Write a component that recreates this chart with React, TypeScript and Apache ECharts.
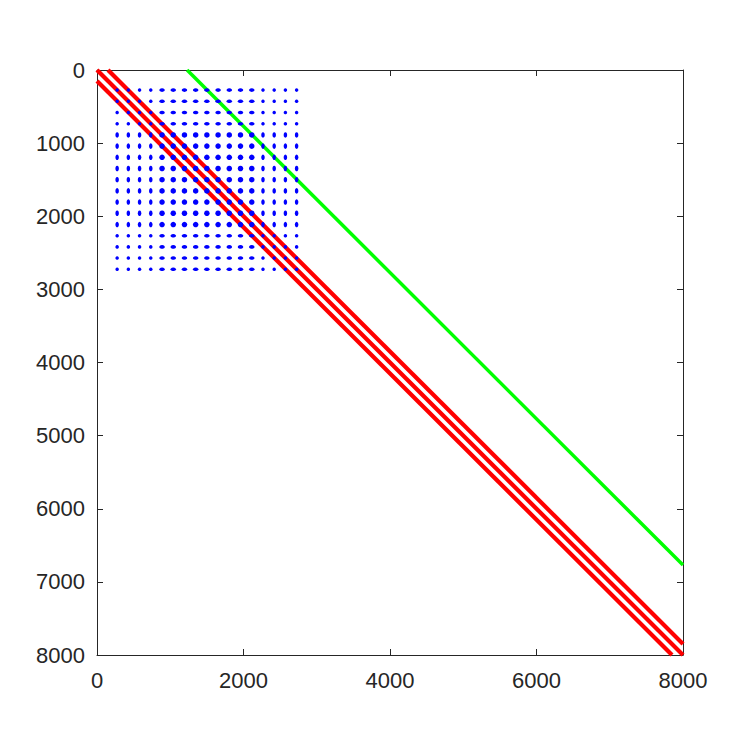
import React, { useEffect, useRef } from "react";
import * as echarts from "echarts";

// Axis ticks
const xTicks = [0, 2000, 4000, 6000, 8000];
const yTicks = [0, 1000, 2000, 3000, 4000, 5000, 6000, 7000, 8000];

// Diagonal bands (start point, end point) in data units
const lowerDiag = [[0, 150], [7850, 8000]];
const mainDiag = [[0, 0], [8000, 8000]];
const upperDiag = [[150, 0], [8000, 7850]];
const greenDiag = [[1230, 0], [8000, 6770]];

// Block of nonzeros: grid coordinates (column / row positions)
const blockCols = [275, 428, 581, 734, 888, 1041, 1194, 1347, 1500, 1653, 1806, 1959, 2113, 2266, 2419, 2572, 2725];
const blockRows = [275, 428, 581, 734, 888, 1041, 1194, 1347, 1500, 1653, 1806, 1959, 2113, 2266, 2419, 2572, 2725];
// Density level of each column / row (1 = sparse, 2 = dense)
const colDensity = [1, 1, 1, 1, 2, 2, 2, 2, 2, 2, 2, 2, 2, 1, 1, 1, 1];
const rowDensity = [1, 1, 1, 1, 2, 2, 2, 2, 2, 2, 2, 2, 2, 1, 1, 1, 1];

export default function App() {
  const ref = useRef<HTMLDivElement>(null);
  useEffect(() => {
    if (!ref.current) return;
    const chart = echarts.init(ref.current, null, { renderer: "svg" });
    const axisColor = "#262626";
    const font = "'Liberation Sans', Arial, Helvetica, sans-serif";

    const dotSize = (lvl: number) => (lvl === 2 ? 5.5 : 3.5);
    const dots: any[] = [];
    blockRows.forEach((r, ri) => {
      blockCols.forEach((c, ci) => {
        dots.push({ value: [c, r], symbolSize: [dotSize(colDensity[ci]), dotSize(rowDensity[ri])] });
      });
    });

    const baseX = {
      type: "value",
      min: 0,
      max: 8000,
      interval: 2000,
      splitLine: { show: false },
      axisLine: { show: true, onZero: false, lineStyle: { color: axisColor, width: 1 } },
      axisTick: { show: true, inside: true, length: 6, lineStyle: { color: axisColor } },
    };
    const baseY = {
      type: "value",
      min: 0,
      max: 8000,
      interval: 1000,
      inverse: true,
      splitLine: { show: false },
      axisLine: { show: true, onZero: false, lineStyle: { color: axisColor, width: 1 } },
      axisTick: { show: true, inside: true, length: 6, lineStyle: { color: axisColor } },
    };

    const lineSeries = (data: number[][], color: string, width: number) => ({
      type: "line",
      data,
      xAxisIndex: 0,
      yAxisIndex: 0,
      symbol: "none",
      clip: true,
      z: 2,
      lineStyle: { color, width },
      silent: true,
    });

    chart.setOption({
      animation: false,
      backgroundColor: "#ffffff",
      grid: { left: 97, top: 70, right: 70, bottom: 98, containLabel: false },
      xAxis: [
        {
          ...baseX,
          position: "bottom",
          axisLabel: {
            show: true,
            margin: 14,
            color: axisColor,
            fontSize: 22,
            fontFamily: font,
            showMinLabel: true,
            showMaxLabel: true,
            formatter: (v: number) => (xTicks.includes(v) ? String(v) : ""),
          },
        },
        { ...baseX, position: "top", axisLabel: { show: false } },
      ],
      yAxis: [
        {
          ...baseY,
          position: "left",
          axisLabel: {
            show: true,
            margin: 12,
            color: axisColor,
            fontSize: 22,
            fontFamily: font,
            showMinLabel: true,
            showMaxLabel: true,
            formatter: (v: number) => (yTicks.includes(v) ? String(v) : ""),
          },
        },
        { ...baseY, position: "right", axisLabel: { show: false } },
      ],
      series: [
        lineSeries(lowerDiag, "#ff0000", 4.2),
        lineSeries(mainDiag, "#ff0000", 4.2),
        lineSeries(upperDiag, "#ff0000", 4.2),
        lineSeries(greenDiag, "#00ff00", 3.5),
        {
          type: "scatter",
          data: dots,
          xAxisIndex: 0,
          yAxisIndex: 0,
          symbol: "circle",
          z: 10,
          itemStyle: { color: "#0000ff", opacity: 1 },
          silent: true,
        },
      ],
    });
    return () => chart.dispose();
  }, []);
  return (
    <div
      ref={ref}
      style={{ position: "fixed", left: 0, top: 0, width: 753, height: 753, background: "#fff" }}
    />
  );
}
